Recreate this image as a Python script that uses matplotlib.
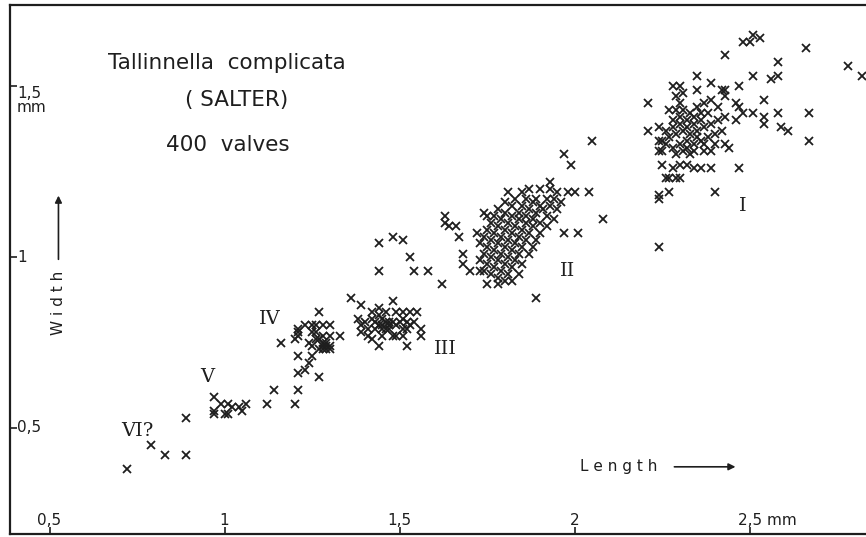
import matplotlib.pyplot as plt

# length / width (mm) of 400 valves, grouped by instar
inst_vi = [(0.72, 0.38), (0.79, 0.45), (0.83, 0.42), (0.89, 0.42), (0.89, 0.53)]

inst_v = [(0.97, 0.59), (0.97, 0.55), (0.97, 0.54), (0.99, 0.57), (1.01, 0.57),
          (1.02, 0.56), (1.00, 0.54), (1.01, 0.54), (1.04, 0.56), (1.06, 0.57),
          (1.05, 0.55), (1.12, 0.57), (1.14, 0.61), (1.20, 0.57), (1.21, 0.61)]

inst_iv = [(1.21, 0.66), (1.27, 0.65), (1.16, 0.75), (1.21, 0.71), (1.24, 0.69),
           (1.23, 0.67), (1.25, 0.71), (1.21, 0.77), (1.21, 0.78), (1.20, 0.76),
           (1.23, 0.80), (1.25, 0.80), (1.26, 0.80), (1.28, 0.80), (1.30, 0.80),
           (1.25, 0.78), (1.26, 0.78), (1.28, 0.77), (1.30, 0.77), (1.24, 0.75),
           (1.26, 0.76), (1.28, 0.75), (1.29, 0.73), (1.30, 0.73), (1.28, 0.73),
           (1.29, 0.74), (1.27, 0.76), (1.25, 0.74), (1.27, 0.84), (1.33, 0.77),
           (1.21, 0.79), (1.29, 0.75), (1.30, 0.74), (1.28, 0.74), (1.27, 0.73)]

inst_iii = [(1.36, 0.88), (1.39, 0.86), (1.48, 0.87), (1.44, 0.85), (1.55, 0.84),
            (1.53, 0.84), (1.51, 0.84), (1.38, 0.82), (1.39, 0.80), (1.39, 0.78),
            (1.41, 0.77), (1.42, 0.76), (1.44, 0.74), (1.52, 0.74), (1.56, 0.77),
            (1.56, 0.79), (1.54, 0.81), (1.45, 0.82), (1.47, 0.81), (1.47, 0.79),
            (1.48, 0.77), (1.49, 0.77), (1.51, 0.79), (1.49, 0.80), (1.43, 0.81),
            (1.43, 0.79), (1.45, 0.77), (1.41, 0.79), (1.51, 0.82), (1.52, 0.81),
            (1.52, 0.79), (1.51, 0.77), (1.46, 0.84), (1.42, 0.84), (1.49, 0.84),
            (1.45, 0.80), (1.46, 0.79), (1.44, 0.80), (1.47, 0.80), (1.48, 0.81),
            (1.46, 0.81), (1.45, 0.79), (1.50, 0.81), (1.42, 0.82), (1.40, 0.81),
            (1.53, 0.80), (1.44, 0.83)]

inst_ii = [
    # loose points around the cluster
    (1.44, 1.04), (1.48, 1.06), (1.51, 1.05), (1.53, 1.00), (1.54, 0.96),
    (1.58, 0.96), (1.44, 0.96), (1.62, 0.92), (1.63, 1.12), (1.63, 1.10),
    (1.64, 1.09), (1.66, 1.09), (1.67, 1.06), (1.68, 1.01), (1.68, 0.98),
    (1.70, 0.96), (1.73, 0.96), (1.74, 1.13), (1.75, 1.12), (1.72, 1.07),
    (1.81, 1.19), (1.75, 0.92), (1.78, 0.92), (1.89, 0.88), (1.93, 1.22),
    (1.98, 1.19), (2.00, 1.19), (2.04, 1.19), (2.08, 1.11), (2.01, 1.07),
    (1.97, 1.07), (1.97, 1.30), (1.99, 1.27), (2.05, 1.34),
    # dense body
    (1.87, 1.20), (1.90, 1.20), (1.93, 1.20), (1.85, 1.19), (1.95, 1.19),
    (1.83, 1.17), (1.86, 1.17), (1.89, 1.17), (1.92, 1.17), (1.94, 1.17),
    (1.80, 1.16), (1.88, 1.16), (1.96, 1.16), (1.82, 1.15), (1.85, 1.15),
    (1.90, 1.15), (1.93, 1.15), (1.78, 1.14), (1.87, 1.14), (1.91, 1.14),
    (1.95, 1.14), (1.80, 1.13), (1.84, 1.13), (1.89, 1.13), (1.77, 1.12),
    (1.82, 1.12), (1.86, 1.12), (1.92, 1.12), (1.79, 1.11), (1.84, 1.11),
    (1.88, 1.11), (1.94, 1.11), (1.76, 1.10), (1.81, 1.10), (1.86, 1.10),
    (1.90, 1.10), (1.78, 1.09), (1.83, 1.09), (1.88, 1.09), (1.92, 1.09),
    (1.75, 1.08), (1.80, 1.08), (1.85, 1.08), (1.77, 1.07), (1.82, 1.07),
    (1.87, 1.07), (1.90, 1.07), (1.74, 1.06), (1.79, 1.06), (1.84, 1.06),
    (1.76, 1.05), (1.81, 1.05), (1.86, 1.05), (1.89, 1.05), (1.73, 1.04),
    (1.78, 1.04), (1.83, 1.04), (1.75, 1.03), (1.80, 1.03), (1.85, 1.03),
    (1.88, 1.03), (1.77, 1.02), (1.82, 1.02), (1.74, 1.01), (1.79, 1.01),
    (1.84, 1.01), (1.87, 1.01), (1.76, 1.00), (1.81, 1.00), (1.73, 0.99),
    (1.78, 0.99), (1.83, 0.99), (1.75, 0.98), (1.80, 0.98), (1.85, 0.98),
    (1.77, 0.97), (1.82, 0.97), (1.74, 0.96), (1.79, 0.96), (1.76, 0.95),
    (1.81, 0.95), (1.84, 0.95), (1.78, 0.94), (1.80, 0.93), (1.82, 0.93)]

inst_i = [
    (2.53, 1.64), (2.51, 1.65), (2.50, 1.63), (2.48, 1.63), (2.43, 1.59),
    (2.66, 1.61), (2.58, 1.57), (2.51, 1.53), (2.58, 1.53), (2.56, 1.52),
    (2.35, 1.53), (2.78, 1.56), (2.82, 1.53), (2.47, 1.50), (2.39, 1.51),
    (2.42, 1.49), (2.43, 1.49), (2.43, 1.47), (2.54, 1.46), (2.51, 1.42),
    (2.54, 1.41), (2.54, 1.39), (2.58, 1.42), (2.67, 1.42), (2.59, 1.38),
    (2.61, 1.37), (2.67, 1.34), (2.43, 1.33), (2.47, 1.26), (2.40, 1.19),
    (2.21, 1.45), (2.21, 1.37), (2.24, 1.17), (2.27, 1.19), (2.46, 1.45),
    (2.47, 1.44), (2.48, 1.42), (2.46, 1.40), (2.35, 1.49), (2.24, 1.03),
    (2.44, 1.32),
    (2.24, 1.34), (2.25, 1.34), (2.24, 1.31), (2.25, 1.31), (2.29, 1.30),
    (2.25, 1.27), (2.28, 1.26), (2.30, 1.27), (2.32, 1.27), (2.34, 1.26),
    (2.36, 1.26), (2.39, 1.26), (2.26, 1.23), (2.27, 1.23), (2.29, 1.23),
    (2.30, 1.23), (2.24, 1.18), (2.37, 1.31), (2.39, 1.31), (2.34, 1.31),
    (2.32, 1.32),
    (2.28, 1.50), (2.30, 1.50), (2.31, 1.48), (2.29, 1.47), (2.30, 1.45),
    (2.27, 1.43), (2.29, 1.43), (2.31, 1.43), (2.33, 1.42), (2.35, 1.44),
    (2.37, 1.45), (2.39, 1.46), (2.41, 1.44), (2.38, 1.42), (2.36, 1.40),
    (2.34, 1.39), (2.32, 1.40), (2.30, 1.39), (2.28, 1.38), (2.26, 1.37),
    (2.27, 1.35), (2.29, 1.36), (2.31, 1.37), (2.33, 1.36), (2.35, 1.37),
    (2.37, 1.38), (2.39, 1.39), (2.41, 1.40), (2.43, 1.41), (2.40, 1.36),
    (2.38, 1.35), (2.36, 1.34), (2.34, 1.33), (2.32, 1.34), (2.30, 1.33),
    (2.28, 1.32), (2.31, 1.31), (2.33, 1.30), (2.35, 1.35), (2.37, 1.33),
    (2.40, 1.33), (2.42, 1.37), (2.30, 1.41), (2.34, 1.41), (2.32, 1.38),
    (2.28, 1.40), (2.36, 1.42), (2.26, 1.33), (2.24, 1.38)]

instars = [inst_vi, inst_v, inst_iv, inst_iii, inst_ii, inst_i]
instar_names = ['VI?', 'V', 'IV', 'III', 'II', 'I']
name_pos = [(0.75, 0.49), (0.95, 0.65), (1.13, 0.82), (1.63, 0.73), (1.98, 0.96), (2.48, 1.15)]

x_ticks = [0.5, 1, 1.5, 2, 2.5]
x_labels = ['0,5', '1', '1,5', '2', '2,5 mm']
y_ticks = [0.5, 1, 1.5]
y_labels = ['0,5', '1', '1,5\nmm']

ink = '#1e1e1e'
fig = plt.figure(figsize=(8.66, 5.37), dpi=100)
ax = fig.add_axes([0.0115, 0.0056, 1.0, 0.985])

for pts in instars:
    ax.plot([p[0] for p in pts], [p[1] for p in pts], 'x', color=ink,
            markersize=5.5, markeredgewidth=1.3)

for name, (px, py) in zip(instar_names, name_pos):
    ax.text(px, py, name, family='DejaVu Serif', fontsize=14, color=ink,
            ha='center', va='center')

ax.set_xlim(0.387, 2.86)
ax.set_ylim(0.19, 1.737)
ax.set_xticks(x_ticks)
ax.set_yticks(y_ticks)
ax.set_xticklabels([])
ax.set_yticklabels([])
ax.tick_params(direction='in', length=5, width=1.2, colors=ink)
for side in ['left', 'top', 'bottom']:
    ax.spines[side].set_linewidth(1.6)
    ax.spines[side].set_color(ink)
ax.spines['right'].set_visible(False)

tf = ax.get_xaxis_transform()
for v, s in zip(x_ticks, x_labels):
    ha = 'left' if s.endswith('mm') else 'center'
    xv = v - 0.035 if ha == 'left' else v
    ax.text(xv, 0.012, s, transform=tf, ha=ha, va='bottom', fontsize=11, color=ink)
tf = ax.get_yaxis_transform()
for v, s in zip(y_ticks, y_labels):
    ax.text(0.008, v, s, transform=tf, ha='left', va='top' if 'mm' in s else 'center',
            fontsize=11, color=ink, linespacing=0.9)

ax.text(0.251, 0.89, 'Tallinnella  complicata', transform=ax.transAxes,
        ha='center', va='center', fontsize=15.5, color=ink)
ax.text(0.262, 0.82, '( SALTER)', transform=ax.transAxes,
        ha='center', va='center', fontsize=15.5, color=ink)
ax.text(0.252, 0.735, '400  valves', transform=ax.transAxes,
        ha='center', va='center', fontsize=15.5, color=ink)

ax.text(0.056, 0.437, 'W i d t h', transform=ax.transAxes, rotation=90,
        ha='center', va='center', fontsize=11, color=ink)
ax.annotate('', xy=(0.056, 0.645), xytext=(0.056, 0.514), xycoords='axes fraction',
            arrowprops=dict(arrowstyle='-|>', color=ink, lw=1.2))
ax.text(0.703, 0.127, 'L e n g t h', transform=ax.transAxes,
        ha='center', va='center', fontsize=11, color=ink)
ax.annotate('', xy=(0.841, 0.127), xytext=(0.764, 0.127), xycoords='axes fraction',
            arrowprops=dict(arrowstyle='-|>', color=ink, lw=1.2))

fig.savefig('out.png', dpi=100)
